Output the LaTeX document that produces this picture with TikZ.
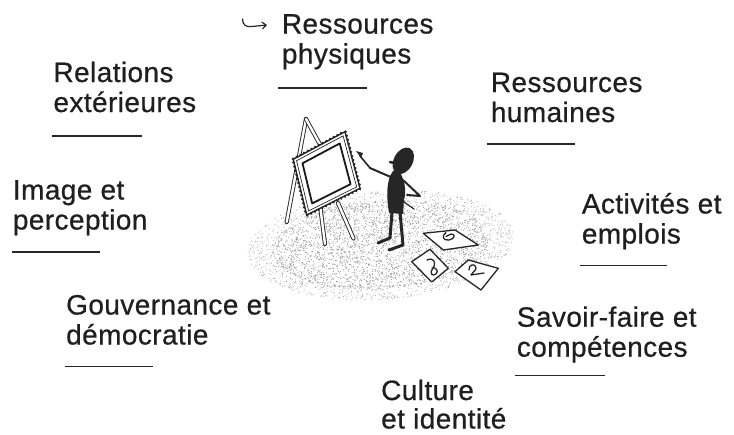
\documentclass[tikz,border=0pt]{standalone}
\usepackage{fontspec}
\setmainfont{Liberation Sans}[LetterSpace=1.5, FakeBold=0.6]
\usetikzlibrary{arrows.meta,decorations.markings}

% two stacked lines whose first baseline is the box baseline
\newcommand\twoline[3][30pt]{\vtop{\baselineskip=#1\hbox{#2}\hbox{#3}}}

\begin{document}
\begin{tikzpicture}[x=1pt,y=-1pt,
  lbl/.style={anchor=base west, inner sep=0pt, text=black!88,
    font=\fontsize{28}{30}\selectfont},
  uline/.style={draw=black!85, line width=1.8pt},
  legbar/.style={draw=black!85, line width=0.9pt, double=white,
    double distance=2.4pt, line cap=round},
  limb/.style={draw=black!85, line width=2pt, line cap=round, line join=round},
  shank/.style={draw=black!85, line width=3pt, line cap=round, line join=round},
  paper/.style={fill=white, draw=black!85, line width=1.3pt, line join=round},
  scrib/.style={draw=black!85, line width=1.3pt, line cap=round, line join=round},
  scallop/.style={postaction={decorate}, decoration={markings,
    mark=between positions 0 and 1 step 4.2pt with
    {\fill[black!85] (0pt,0.6pt) circle (1.4pt);}}}]
\useasboundingbox (0,0) rectangle (734,434);

% ---- stippled ground: a denser core and a sparse fringe ----
\pgfmathsetseed{1234}
\begin{scope}[shift={(381,245)}, rotate=4]
  \foreach \i in {1,...,3000}{
    \pgfmathsetmacro\ang{360*rnd}
    \pgfmathsetmacro\rr{sqrt(rnd)*0.85}
    \fill[black!45] ({127*\rr*cos(\ang)},{52*\rr*sin(\ang)}) circle (0.5pt);
  }
  \foreach \i in {1,...,1200}{
    \pgfmathsetmacro\ang{360*rnd}
    \pgfmathsetmacro\rr{0.8+0.25*rnd}
    \fill[black!40] ({127*\rr*cos(\ang)},{52*\rr*sin(\ang)}) circle (0.45pt);
  }
\end{scope}

% ---- easel ----
\draw[legbar] (306,119) -- (286.7,222);
\draw[legbar] (306,119) -- (323,150);
\draw[legbar] (320,205) -- (325,244);
\draw[legbar] (338,203) -- (353.5,238.5);

% ---- picture frame ----
\begin{scope}[shift={(326.25,173.6)}]
  \filldraw[fill=white, draw=black!85, line width=1.4pt, scallop]
    (-33,-14.3) -- (18.75,-41.9) -- (33.75,14.7) -- (-19.55,41.4) -- cycle;
  \draw[black!85, line width=0.7pt, scale=0.9]
    (-33,-14.3) -- (18.75,-41.9) -- (33.75,14.7) -- (-19.55,41.4) -- cycle;
  \draw[black!90, line width=1.8pt, line join=round, scale=0.72]
    (-33,-14.3) -- (18.75,-41.9) -- (33.75,14.7) -- (-19.55,41.4) -- cycle;
\end{scope}

% ---- painter ----
\fill[black!85, rotate around={-28:(403.3,160.8)}]
  (403.3,160.8) ellipse [x radius=9.5, y radius=14.2];
\draw[black!85, line width=2.5pt, line cap=round] (390,162) -- (398,164);
\fill[black!85] (393,171) -- (399,171)
  .. controls (404,178) and (407,190) .. (404,200)
  .. controls (403,206) and (404,210) .. (403,214) -- (389,213)
  .. controls (387,200) and (386,188) .. (390,176) -- cycle;
\draw[limb] (393,178) -- (370,168);
\draw[black!85, line width=1.6pt, line cap=round] (370,168) -- (360,156);
\fill[black!85] (356,151) -- (363,153) -- (361,158) -- cycle;
\draw[limb] (403,180) -- (420,196) -- (407,195);
\draw[black!85, line width=1.2pt, line cap=round] (401,200) -- (414,209);
\draw[shank] (392,212) -- (390,238) -- (378,243);
\draw[shank] (400,212) -- (403,245) -- (389,250);

% ---- sheets on the ground ----
\draw[paper] (423.3,233.3) -- (455,230) -- (478.3,245) -- (443.3,250) -- cycle;
\draw[scrib] (446,232.5) .. controls (441,236) and (443,241) .. (449,240)
  .. controls (455,239) and (456,234) .. (451,234) -- (446,236.5);
\draw[paper] (411.7,261.7) -- (430,249.3) -- (448.3,268.3) -- (431.7,282) -- cycle;
\draw[scrib] (427,260) .. controls (433,257) and (437,262) .. (433,268)
  .. controls (429,273) and (432,277) .. (436,274)
  .. controls (439,271) and (436,267) .. (432,268);
\draw[paper] (455,271.7) -- (468.3,260) -- (498.3,268.3) -- (481,290) -- cycle;
\draw[scrib] (469,270) .. controls (468,264) and (476,263) .. (476,268)
  .. controls (476,271) and (472,272) .. (471,275) -- (484,273);

% ---- labels ----
\node[lbl] (phys) at (281.7,33.5) {\twoline{Ressources}{physiques}};
\node[lbl] (ext)  at (53.3,82)    {\twoline{Relations}{extérieures}};
\node[lbl] (img)  at (12.7,199.5) {\twoline{Image et}{perception}};
\node[lbl] (hum)  at (490.7,92)   {\twoline{Ressources}{humaines}};
\node[lbl] (act)  at (581.7,213.5){\twoline{Activités et}{emplois}};
\node[lbl] (sav)  at (516.7,326.7){\twoline{Savoir-faire et}{compétences}};
\node[lbl] (cul)  at (381,400)    {\twoline[28.5pt]{Culture}{et identité}};
\node[lbl] (gov)  at (66,314.5)   {\twoline{Gouvernance et}{démocratie}};

% small hooked arrow in front of the first label
\coordinate (hookS) at (242.5,18.5);
\coordinate (hookE) at (267,25);
\draw[black!85, line width=1.2pt, -{Straight Barb[length=4pt,width=7pt]}]
  (hookS) .. controls (243,26) and (246,27) .. (252,26.5) -- (hookE);

% ---- underlines ----
\draw[uline] (278,88.3) -- (366.7,88.3);
\draw[uline] (51.7,135.7) -- (141.7,135.7);
\draw[uline] (11.7,252.3) -- (100,252.3);
\draw[uline] (486.7,144.3) -- (575,144.3);
\draw[uline] (580,265.5) -- (666.7,265.5);
\draw[uline] (515,375.5) -- (605,375.5);
\draw[uline] (65,366.5) -- (153.3,366.5);
\end{tikzpicture}
\end{document}
